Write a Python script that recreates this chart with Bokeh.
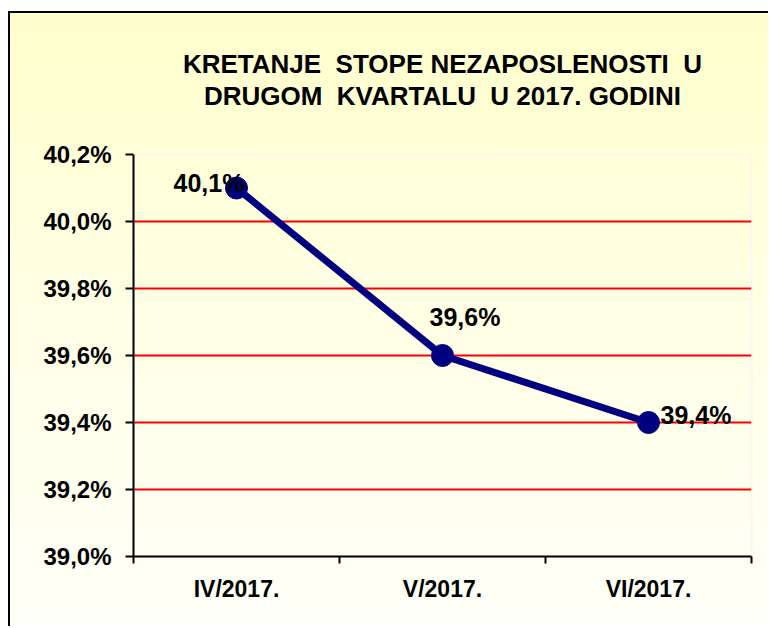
from bokeh.plotting import figure
from bokeh.models import ColumnDataSource, FixedTicker, CustomJSTickFormatter, Range1d, Title
from bokeh.core.properties import value
from bokeh.embed import file_html
from bokeh.resources import INLINE

# ---- data ----
months = ["IV/2017.", "V/2017.", "VI/2017."]
rates = [40.1, 39.6, 39.4]
rate_labels = ["40,1%", "39,6%", "39,4%"]
y_ticks = [39.0, 39.2, 39.4, 39.6, 39.8, 40.0, 40.2]
title_lines = ["KRETANJE\u00a0 STOPE NEZAPOSLENOSTI\u00a0 U", "DRUGOM\u00a0 KVARTALU\u00a0 U 2017. GODINI"]

# label placement (screen px offsets from each point)
label_dx = [-63, -13, 12]
label_dy = [-5, -39, -8]

FONT = "Liberation Sans"

xs = [i + 0.5 for i in range(len(months))]
src = ColumnDataSource(dict(x=xs, y=rates, label=rate_labels, dx=label_dx, dy=label_dy))

p = figure(width=760, height=615,
           x_range=Range1d(0, len(months)), y_range=Range1d(min(y_ticks), max(y_ticks)),
           output_backend="svg", toolbar_location=None,
           min_border_left=123, min_border_right=19, min_border_top=141, min_border_bottom=72,
           background_fill_alpha=0, border_fill_alpha=0)

p.styles = {
    "border-left": "2px solid black",
    "border-top": "2px solid black",
    "margin-left": "8px",
    "margin-top": "11px",
    "background": "linear-gradient(to bottom, #FFFFCC 0%, #FFFFE4 45%, #FFFFF8 100%)",
}

p.outline_line_color = "#FFF4F0"
p.outline_line_width = 2


def style_title(t, standoff, line_height=1.0):
    t.align = "center"
    t.text_font = FONT
    t.text_font_size = "26px"
    t.text_font_style = "bold"
    t.text_color = "black"
    t.text_line_height = line_height
    t.standoff = standoff


# stack above the frame (nearest first): empty spacer, second line; plot title = first line (outermost)
spacer = Title(text="\u00a0")
style_title(spacer, 12)
p.add_layout(spacer, "above")
t2 = Title(text=title_lines[1])
style_title(t2, 0, 0.85)
p.add_layout(t2, "above")
p.title.text = title_lines[0]
style_title(p.title, 0, 0.85)

# grid
p.xgrid.visible = False
p.ygrid.ticker = FixedTicker(ticks=[t for t in y_ticks if t < max(y_ticks)])
p.ygrid.grid_line_color = "#FF0000"
p.ygrid.grid_line_width = 2

# y axis
ya = p.yaxis[0]
ya.ticker = FixedTicker(ticks=y_ticks)
ya.formatter = CustomJSTickFormatter(code="return tick.toFixed(1).replace('.', ',') + '%';")
ya.major_label_text_font = FONT
ya.major_label_text_font_size = "24px"
ya.major_label_text_font_style = "bold"
ya.major_label_text_color = "black"
ya.axis_line_color = "black"
ya.axis_line_width = 2
ya.major_tick_line_color = "black"
ya.major_tick_line_width = 2
ya.major_tick_out = 8
ya.major_tick_in = 0
ya.minor_tick_line_color = None
ya.major_label_standoff = 14

# x axis
xa = p.xaxis[0]
xa.ticker = FixedTicker(ticks=xs, minor_ticks=list(range(len(months) + 1)))
xa.formatter = CustomJSTickFormatter(args=dict(months=months),
                                     code="return months[Math.floor(tick)];")
xa.major_label_text_font = FONT
xa.major_label_text_font_size = "23px"
xa.major_label_text_font_style = "bold"
xa.major_label_text_color = "black"
xa.axis_line_color = "black"
xa.axis_line_width = 2
xa.major_tick_line_color = None
xa.major_tick_out = 0
xa.major_tick_in = 0
xa.minor_tick_line_color = "black"
xa.minor_tick_line_width = 2
xa.minor_tick_out = 7
xa.minor_tick_in = 0
xa.major_label_standoff = 12

# series
p.line(x="x", y="y", source=src, line_color="#000080", line_width=7)
p.scatter(x="x", y="y", source=src, size=22, fill_color="#000080", line_color="#000080")
p.text(x="x", y="y", text="label", source=src, x_offset="dx", y_offset="dy",
       text_font=value(FONT), text_font_style="bold", text_font_size="25px",
       text_baseline="alphabetic", text_align="left", text_color="black")

open("out.html", "w").write(file_html(p, INLINE))
